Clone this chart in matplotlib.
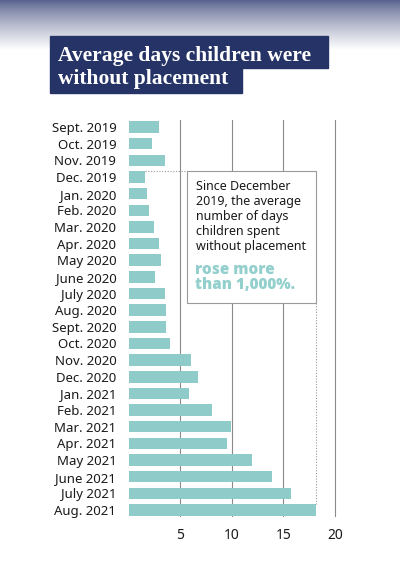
import matplotlib
matplotlib.use("Agg")
import matplotlib.pyplot as plt
import numpy as np
from matplotlib.patches import Rectangle

months = ["Sept. 2019", "Oct. 2019", "Nov. 2019", "Dec. 2019", "Jan. 2020", "Feb. 2020",
          "Mar. 2020", "Apr. 2020", "May 2020", "June 2020", "July 2020", "Aug. 2020",
          "Sept. 2020", "Oct. 2020", "Nov. 2020", "Dec. 2020", "Jan. 2021", "Feb. 2021",
          "Mar. 2021", "Apr. 2021", "May 2021", "June 2021", "July 2021", "Aug. 2021"]
days = [2.9, 2.3, 3.5, 1.6, 1.8, 2.0, 2.4, 2.9, 3.1, 2.5, 3.5, 3.6,
        3.6, 4.0, 6.0, 6.7, 5.8, 8.1, 9.9, 9.5, 12.0, 13.9, 15.7, 18.2]
xticks = [5, 10, 15, 20]
title_lines = ["Average days children were", "without placement"]
note_text = "Since December\n2019, the average\nnumber of days\nchildren spent\nwithout placement"
note_em = "rose more\nthan 1,000%."

W, H = 400, 575
fig = plt.figure(figsize=(W / 100, H / 100), dpi=100)
fig.patch.set_facecolor("white")

def fx(px):
    return px / W

def fy(py):
    return 1 - py / H

# top gradient
gax = fig.add_axes([0, fy(50), 1, 50 / H])
grad = np.linspace(0, 1, 100)
top = np.array([86, 96, 140]) / 255
bot = np.array([1.0, 1.0, 1.0])
t = grad ** 0.8
img = top[None, :] * (1 - t)[:, None] + bot[None, :] * t[:, None]
img = np.repeat(img[:, None, :], 2, axis=1)
gax.imshow(img, aspect="auto", extent=[0, 1, 0, 1], origin="upper")
gax.axis("off")

# title boxes
navy = "#263366"
fig.add_artist(Rectangle((fx(50), fy(68)), fx(328) - fx(50), fy(36) - fy(68),
                         transform=fig.transFigure, color=navy, zorder=2))
fig.add_artist(Rectangle((fx(50), fy(93)), fx(242) - fx(50), fy(68) - fy(93),
                         transform=fig.transFigure, color=navy, zorder=2))
tfam = "Liberation Serif"
t1 = fig.text(fx(58), fy(61), title_lines[0], color="white",
              fontsize=15, fontweight="bold", family=tfam, va="baseline", zorder=3)
t2 = fig.text(fx(58), fy(84), title_lines[1], color="white",
              fontsize=15, fontweight="bold", family=tfam, va="baseline", zorder=3)
fig.canvas.draw()
r = fig.canvas.get_renderer()
w1 = t1.get_window_extent(r).width
fs = 15 * 254 / w1
t1.set_fontsize(fs)
t2.set_fontsize(fs)

# chart
x0, ppu = 128.8, 10.3
xmax = 20.5
ax = fig.add_axes([fx(x0), fy(517), xmax * ppu / W, (517 - 120) / H])
n = len(days)
ypos = np.arange(n)
bh = 0.69
teal = "#8fcbc8"
ax.barh(ypos, days, height=bh, color=teal, zorder=3)
ax.set_xlim(0, xmax)
ax.set_ylim(n - 1 + 0.42, -0.42)
ax.set_yticks(ypos)
ax.set_yticklabels(months, family="Noto Sans", fontsize=9.5, color="#1a1a1a")
ax.set_xticks(xticks)
ax.set_xticklabels([str(v) for v in xticks], family="Noto Sans", fontsize=10, color="#1a1a1a")
ax.tick_params(axis="both", length=0)
ax.tick_params(axis="y", pad=9)
ax.tick_params(axis="x", pad=8)
for s in ax.spines.values():
    s.set_visible(False)
for v in xticks:
    ax.axvline(v, color="#8a8a8a", lw=0.8, zorder=1)

# annotation box
i_dec = months.index("Dec. 2019")
i_last = n - 1
bx0 = 5.65
bx1 = days[i_last]
by0 = i_dec - bh / 2
by1 = 10.57
ax.add_patch(Rectangle((bx0, by0), bx1 - bx0, by1 - by0, facecolor="white",
                       edgecolor="#9a9a9a", lw=0.8, zorder=4))
ax.plot([days[i_dec], bx0], [by0, by0], ls=(0, (1, 1.5)), color="#9a9a9a", lw=0.8, zorder=4)
ax.plot([bx1, bx1], [by1, i_last - bh / 2], ls=(0, (1, 1.5)), color="#9a9a9a", lw=0.8, zorder=4)

ax.text(6.5, by0 + 0.55, note_text,
        family="Noto Sans", fontsize=9, color="#1a1a1a", va="top", ha="left",
        linespacing=1.2, zorder=5)
ax.text(6.45, by0 + 5.45, note_em, family="Open Sans", fontsize=11,
        fontweight="heavy", color="#93cfcc", va="top", ha="left", linespacing=0.95, zorder=5)

fig.savefig("out.png", dpi=100, facecolor="white")
